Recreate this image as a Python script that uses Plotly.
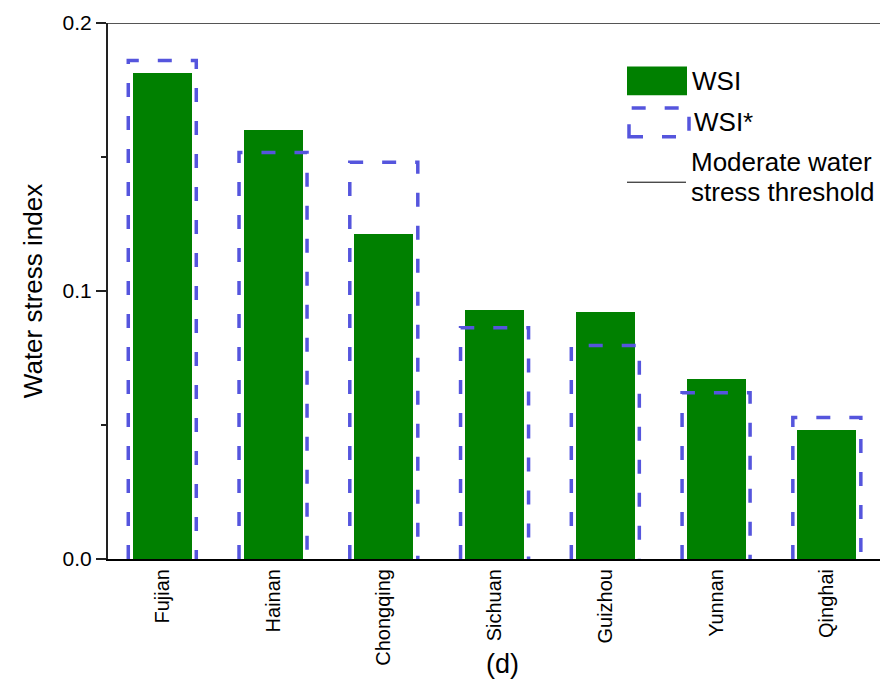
import plotly.graph_objects as go

categories = ["Fujian", "Hainan", "Chongqing", "Sichuan", "Guizhou", "Yunnan", "Qinghai"]
wsi = [0.1815, 0.160, 0.1214, 0.093, 0.0923, 0.0672, 0.0483]
wsi_star = [0.186, 0.1517, 0.148, 0.0863, 0.0797, 0.062, 0.0528]
threshold = 0.2
y_ticks = [0.0, 0.1, 0.2]

FONT = "Liberation Sans, Arial, sans-serif"
GREEN = "#008000"
BLUE = "#5555DD"

idx = list(range(len(categories)))
half_w = 0.307

# dashed outline path for WSI*
ox, oy = [], []
for i, v in zip(idx, wsi_star):
    ox += [i - half_w, i - half_w, i + half_w, i + half_w, None]
    oy += [0, v, v, 0, None]

fig = go.Figure()
fig.add_trace(go.Bar(x=idx, y=wsi, width=0.533, marker=dict(color=GREEN, line=dict(width=0)),
                     showlegend=False, hoverinfo="y"))
fig.add_trace(go.Scatter(x=ox, y=oy, mode="lines", showlegend=False,
                         line=dict(color=BLUE, width=3.5, dash="14px,19px"), cliponaxis=False))

W, H = 891, 691
L, R, T, B = 108, 11, 17, 132
pw, ph = W - L - R, H - T - B

def px(x):
    return (x - L) / pw

def py(y):
    return (H - B - y) / ph

shapes = [
    dict(type="line", xref="paper", yref="y", x0=0, x1=1, y0=threshold, y1=threshold,
         line=dict(color="#555555", width=2)),
    dict(type="rect", xref="paper", yref="paper", x0=px(627), x1=px(687), y0=py(90), y1=py(61),
         fillcolor=GREEN, line=dict(width=0)),
    dict(type="rect", xref="paper", yref="paper", x0=px(629), x1=px(689), y0=py(132), y1=py(103),
         line=dict(color=BLUE, width=3.5, dash="14px,19px")),
    dict(type="line", xref="paper", yref="paper", x0=px(627), x1=px(686), y0=py(178), y1=py(178),
         line=dict(color="black", width=1)),
]

ann_font = dict(family=FONT, size=26, color="black")
annotations = [
    dict(text="WSI", x=px(690), y=py(76), xref="paper", yref="paper", xanchor="left", yanchor="middle",
         showarrow=False, font=ann_font),
    dict(text="WSI*", x=px(692), y=py(117), xref="paper", yref="paper", xanchor="left", yanchor="middle",
         showarrow=False, font=ann_font),
    dict(text="Moderate water", x=px(689), y=py(158), xref="paper", yref="paper", xanchor="left",
         yanchor="middle", showarrow=False, font=ann_font),
    dict(text="stress threshold", x=px(689), y=py(188), xref="paper", yref="paper", xanchor="left",
         yanchor="middle", showarrow=False, font=ann_font),
    dict(text="(d)", x=px(502), y=py(665), xref="paper", yref="paper", xanchor="center",
         yanchor="middle", showarrow=False, font=dict(family=FONT, size=27, color="black")),
]

fig.update_layout(
    width=W, height=H,
    margin=dict(l=L, r=R, t=T, b=B, pad=0),
    paper_bgcolor="white", plot_bgcolor="white",
    font=dict(family=FONT, color="black"),
    shapes=shapes, annotations=annotations,
    bargap=0,
    xaxis=dict(range=[-0.49, 6.48], tickmode="array", tickvals=idx, ticktext=categories,
               tickangle=-90, ticks="", showline=True, linecolor="black", linewidth=2,
               showgrid=False, zeroline=False, tickfont=dict(size=20, family=FONT)),
    yaxis=dict(range=[0, 0.2], tickmode="array", tickvals=y_ticks, tickformat=".1f",
               ticks="outside", ticklen=10, tickwidth=1.5, tickcolor="#222",
               minor=dict(ticks="outside", ticklen=5, tickwidth=1.5, dtick=0.05, tickcolor="#222"),
               showline=True, linecolor="#222", linewidth=2, showgrid=False, zeroline=False,
               tickfont=dict(size=21, family=FONT),
               title=dict(text="Water stress index", font=dict(size=26, family=FONT), standoff=12)),
)

fig.write_html("out.html", config={"displayModeBar": False},
               post_script="document.body.style.margin='0';document.body.style.overflow='hidden';")
